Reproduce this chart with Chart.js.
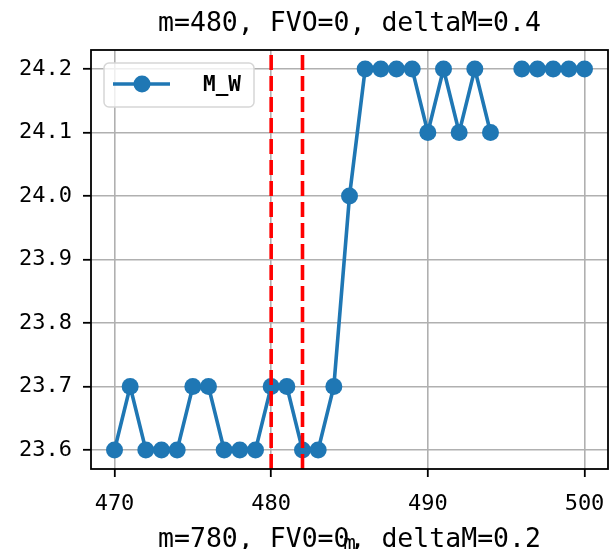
<!DOCTYPE html>
<html>
<head>
<meta charset="utf-8">
<script src="https://cdn.jsdelivr.net/npm/chart.js@4/dist/chart.umd.min.js"></script>
<style>
html,body{margin:0;padding:0;background:#fff;}
#wrap{width:610px;height:549px;position:relative;}
</style>
</head>
<body>
<div id="wrap"><canvas id="c" width="610" height="549"></canvas></div>
<script>
// ---- data ----
const mValues = [470,471,472,473,474,475,476,477,478,479,480,481,482,483,484,485,486,487,488,489,490,491,492,493,494,495,496,497,498,499,500];
const mwValues = [23.6,23.7,23.6,23.6,23.6,23.7,23.7,23.6,23.6,23.6,23.7,23.7,23.6,23.6,23.7,24.0,24.2,24.2,24.2,24.2,24.1,24.2,24.1,24.2,24.1,null,24.2,24.2,24.2,24.2,24.2];
const vlineX = [480, 482];
const xTicks = [470, 480, 490, 500];
const yTicks = [23.6, 23.7, 23.8, 23.9, 24.0, 24.1, 24.2];
const seriesLabel = 'M_W';
const titleTop = 'm=480, FVO=0, deltaM=0.4';
const titleBottom = 'm=780, FV0=0, deltaM=0.2';
const xLabel = 'm';

const X_MIN = 468.5, X_MAX = 501.5, Y_MIN = 23.57, Y_MAX = 24.23;
const BLUE = '#1f77b4';
const MONO = '"DejaVu Sans Mono", monospace';

const datasets = [{
  label: seriesLabel,
  data: mValues.map((m, i) => ({x: m, y: mwValues[i]})),
  borderColor: BLUE,
  backgroundColor: BLUE,
  borderWidth: 3.6,
  pointRadius: 8.5,
  pointHoverRadius: 8.5,
  pointBorderWidth: 0,
  pointBackgroundColor: BLUE,
  spanGaps: false,
  tension: 0,
  order: 1
}];
vlineX.forEach(v => datasets.push({
  label: 'v' + v,
  data: [{x: v, y: Y_MIN}, {x: v, y: Y_MAX}],
  borderColor: '#ff0000',
  borderWidth: 3.6,
  borderDash: [15, 6],
  pointRadius: 0,
  pointHoverRadius: 0,
  order: 0
}));

const decor = {
  id: 'decor',
  afterDatasetsDraw(chart) {
    const ctx = chart.ctx, a = chart.chartArea;
    ctx.save();
    // frame
    ctx.strokeStyle = '#000';
    ctx.lineWidth = 1.8;
    ctx.strokeRect(a.left, a.top, a.right - a.left, a.bottom - a.top);
    // legend
    const lx = 104, ly = 63, lw = 150, lh = 44, r = 5;
    ctx.beginPath();
    ctx.roundRect(lx, ly, lw, lh, r);
    ctx.fillStyle = 'rgba(255,255,255,0.8)';
    ctx.fill();
    ctx.strokeStyle = '#d6d6d6';
    ctx.lineWidth = 1.5;
    ctx.stroke();
    ctx.beginPath();
    ctx.moveTo(113, 84); ctx.lineTo(170, 84);
    ctx.strokeStyle = BLUE; ctx.lineWidth = 3.6; ctx.stroke();
    ctx.beginPath();
    ctx.arc(142, 84, 8.5, 0, Math.PI * 2);
    ctx.fillStyle = BLUE; ctx.fill();
    ctx.fillStyle = '#000';
    ctx.font = 'bold 21px ' + MONO;
    ctx.textAlign = 'left';
    ctx.textBaseline = 'alphabetic';
    ctx.fillText(seriesLabel, 203, 91);
    // titles
    const cx = (a.left + a.right) / 2;
    ctx.textAlign = 'center';
    ctx.font = '21px ' + MONO;
    ctx.fillText(xLabel, cx, 550);
    ctx.font = '26.5px ' + MONO;
    ctx.fillText(titleTop, cx, 31);
    ctx.fillText(titleBottom, cx, 547);
    ctx.restore();
  }
};

function zeroMargins(ax, keys) {
  keys.forEach(k => {
    ax['padding' + k[0].toUpperCase() + k.slice(1)] = 0;
    if (ax._margins) ax._margins[k] = 0;
  });
}

new Chart(document.getElementById('c'), {
  type: 'line',
  data: {datasets},
  options: {
    responsive: false,
    animation: false,
    events: [],
    layout: {autoPadding: false, padding: {top: 50, right: 2, left: 0, bottom: 0}},
    plugins: {legend: {display: false}, title: {display: false}, tooltip: {enabled: false}},
    scales: {
      x: {
        type: 'linear',
        min: X_MIN, max: X_MAX,
        afterBuildTicks: ax => { ax.ticks = xTicks.map(v => ({value: v})); },
        afterFit: ax => { ax.height = 80; zeroMargins(ax, ['left', 'right']); },
        grid: {color: '#b0b0b0', lineWidth: 1.6, drawTicks: true, tickLength: 8, tickColor: '#000', tickWidth: 1.8},
        border: {display: false},
        ticks: {color: '#000', font: {family: MONO, size: 22}, padding: 14, maxRotation: 0, autoSkip: false,
                callback: v => String(v)}
      },
      y: {
        type: 'linear',
        min: Y_MIN, max: Y_MAX,
        afterBuildTicks: ax => { ax.ticks = yTicks.map(v => ({value: v})); },
        afterFit: ax => { ax.width = 91; zeroMargins(ax, ['top', 'bottom']); },
        grid: {color: '#b0b0b0', lineWidth: 1.6, drawTicks: true, tickLength: 8, tickColor: '#000', tickWidth: 1.8},
        border: {display: false},
        ticks: {color: '#000', font: {family: MONO, size: 22}, padding: 11, autoSkip: false,
                callback: v => Number(v).toFixed(1)}
      }
    }
  },
  plugins: [decor]
});
</script>
</body>
</html>
